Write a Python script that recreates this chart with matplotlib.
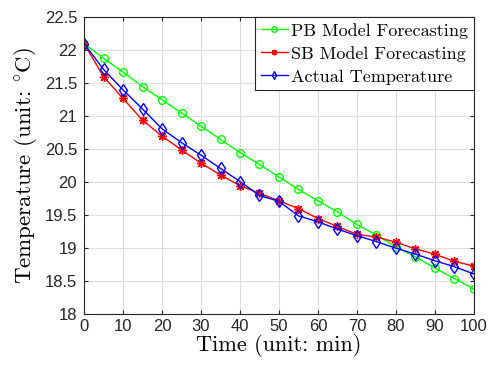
import numpy as np
import matplotlib
matplotlib.use("Agg")
import matplotlib.pyplot as plt

plt.rcParams['mathtext.fontset'] = 'cm'

tiempo = [0, 5, 10, 15, 20, 25, 30, 35, 40, 45, 50, 55, 60, 65, 70, 75, 80, 85, 90, 95, 100]
pb_modelo = [22.10, 21.88, 21.67, 21.45, 21.25, 21.05, 20.85, 20.65, 20.45, 20.27, 20.08,
             19.89, 19.72, 19.55, 19.36, 19.20, 19.02, 18.87, 18.70, 18.54, 18.38]
sb_modelo = [22.10, 21.60, 21.27, 20.94, 20.70, 20.49, 20.29, 20.11, 19.95, 19.83, 19.72,
             19.60, 19.45, 19.33, 19.21, 19.17, 19.09, 18.99, 18.91, 18.80, 18.73]
real = [22.10, 21.71, 21.40, 21.11, 20.81, 20.60, 20.41, 20.21, 20.01, 19.80, 19.71,
        19.49, 19.40, 19.29, 19.19, 19.10, 19.00, 18.91, 18.81, 18.72, 18.61]
etiquetas = ['PB Model Forecasting', 'SB Model Forecasting', 'Actual Temperature']

fig = plt.figure(figsize=(4.92, 3.7), dpi=100)
ax = fig.add_axes([0.171, 0.151, 0.792, 0.802])

ax.plot(tiempo, pb_modelo, color='#00ff00', marker='o', markersize=5.5, markerfacecolor='none',
        linewidth=1, label=etiquetas[0])
ax.plot(tiempo, sb_modelo, color='#ff0000', marker=(8, 2, 0), markersize=6.5, markeredgewidth=1,
        linewidth=1, label=etiquetas[1])
ax.plot(tiempo, real, color='#0000ff', marker='d', markersize=6, markerfacecolor='none',
        linewidth=1, label=etiquetas[2])

ax.set_xlim(0, 100)
ax.set_ylim(18, 22.5)
ax.set_xticks(np.arange(0, 101, 10))
ax.set_yticks(np.arange(18, 22.51, 0.5))
ax.set_yticklabels(['18', '18.5', '19', '19.5', '20', '20.5', '21', '21.5', '22', '22.5'])
ax.grid(True, color='#dedede', linewidth=0.8)
ax.set_axisbelow(True)
ax.tick_params(direction='in', top=True, right=True, labelsize=12, colors='#262626', length=3)
ax.tick_params(axis='y', pad=5)
for lab in ax.get_xticklabels() + ax.get_yticklabels():
    lab.set_fontfamily('Liberation Sans')
for s in ax.spines.values():
    s.set_color('#262626')
    s.set_linewidth(0.8)

ax.set_xlabel('Time (unit: min)', fontfamily='cmr10', fontsize=16, labelpad=0)
ax.set_ylabel(r'Temperature (unit: $^{\circ}$C)', fontfamily='cmr10', fontsize=16.5, labelpad=4)

leg = ax.legend(loc='upper right', prop={'family': 'cmr10', 'size': 13}, fancybox=False,
                framealpha=1, edgecolor='#262626', borderaxespad=0.0, handlelength=1.5,
                borderpad=0.3, labelspacing=0.4, handletextpad=0.2)
leg.get_frame().set_linewidth(0.8)
for h in leg.legend_handles:
    h.set_markersize(4)

fig.savefig('out.png', dpi=100)
